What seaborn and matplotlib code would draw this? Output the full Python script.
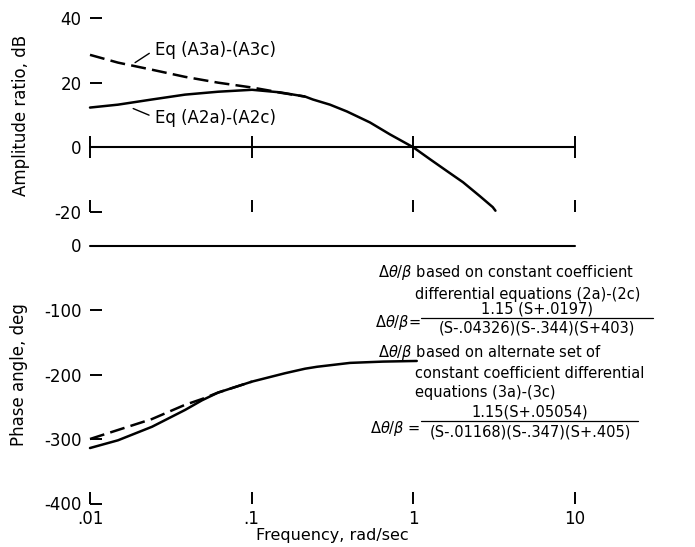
import matplotlib
matplotlib.use("Agg")
import numpy as np
import pandas as pd
import seaborn as sns
import matplotlib.pyplot as plt
from matplotlib.ticker import NullLocator
from matplotlib.lines import Line2D

# values
freq_ticks = [0.01, 0.1, 1, 10]
freq_tick_labels = [".01", ".1", "1", "10"]
amp_ticks = [-20, 0, 20, 40]
phase_ticks = [-400, -300, -200, -100, 0]

# amplitude ratio, Eq (A2a)-(A2c)
amp_freq_a2 = [0.01, 0.0149, 0.0242, 0.0387, 0.062, 0.1005, 0.150, 0.214, 0.239, 0.305,
               0.388, 0.539, 0.717, 1.0, 1.27, 1.62, 2.03, 2.58, 3.10, 3.22]
amp_db_a2 = [12.3, 13.2, 14.8, 16.3, 17.2, 17.8, 17.0, 15.7, 14.8, 13.2,
             11.1, 7.7, 4.0, 0.0, -3.7, -7.4, -10.8, -15.1, -18.5, -19.6]
# amplitude ratio, Eq (A3a)-(A3c)
amp_freq_a3 = [0.01, 0.0149, 0.0242, 0.0387, 0.062, 0.1005, 0.134, 0.150, 0.214]
amp_db_a3 = [28.6, 26.2, 24.0, 21.8, 20.0, 18.5, 17.4, 16.9, 15.7]

# phase angle
ph_freq_2 = [0.01, 0.0149, 0.0242, 0.0387, 0.0493, 0.062, 0.1005, 0.161, 0.214, 0.254,
             0.406, 0.649, 1.05]
ph_deg_2 = [-314, -302, -281, -255, -240, -228, -211, -198, -191, -188, -182, -180, -179]
ph_freq_3 = [0.01, 0.0149, 0.0242, 0.0387, 0.0493, 0.062, 0.1005]
ph_deg_3 = [-300, -286, -269, -247, -238, -228, -211]

amp2 = pd.DataFrame({"freq": amp_freq_a2, "val": amp_db_a2})
amp3 = pd.DataFrame({"freq": amp_freq_a3, "val": amp_db_a3})
ph2 = pd.DataFrame({"freq": ph_freq_2, "val": ph_deg_2})
ph3 = pd.DataFrame({"freq": ph_freq_3, "val": ph_deg_3})

sns.set_style("white")
plt.rcParams["font.family"] = ["DejaVu Sans"]
plt.rcParams["axes.unicode_minus"] = False
for k in ("text.color", "axes.labelcolor", "xtick.color", "ytick.color"):
    plt.rcParams[k] = "black"

W, H = 695, 547
fig = plt.figure(figsize=(W / 100, H / 100), dpi=100)


def fx(x):
    return x / W


def fy(y):
    return 1 - y / H


def box(x0, y0, x1, y1):
    return [fx(x0), fy(y1), (x1 - x0) / W, (y1 - y0) / H]


ax_amp = fig.add_axes(box(90, 18, 575, 212))
ax_ph = fig.add_axes(box(90, 245.5, 575, 503.5))

dash = (0, (6, 2.5))
sns.lineplot(data=amp2, x="freq", y="val", ax=ax_amp, color="black", lw=1.8, errorbar=None, clip_on=False)
sns.lineplot(data=amp3, x="freq", y="val", ax=ax_amp, color="black", lw=1.8, linestyle=dash, errorbar=None, clip_on=False)
sns.lineplot(data=ph2, x="freq", y="val", ax=ax_ph, color="black", lw=1.8, errorbar=None, clip_on=False)
sns.lineplot(data=ph3, x="freq", y="val", ax=ax_ph, color="black", lw=1.8, linestyle=dash, errorbar=None, clip_on=False)

for ax in (ax_amp, ax_ph):
    ax.set_xscale("log")
    ax.set_xlim(0.01, 10)
    ax.xaxis.set_minor_locator(NullLocator())
    ax.yaxis.set_minor_locator(NullLocator())
    for s in ax.spines.values():
        s.set_visible(False)
    ax.patch.set_alpha(0)
    ax.set_xticks(freq_ticks)
    ax.tick_params(which="major", direction="in", length=8.5, width=1.4, color="black",
                   labelcolor="black", labelsize=12, pad=6, bottom=True, left=True,
                   top=False, right=False)

# amplitude panel
ax_amp.set_ylim(-20, 40)
ax_amp.set_yticks(amp_ticks, [str(t) for t in amp_ticks])
ax_amp.tick_params(axis="x", labelbottom=False)
ax_amp.plot(freq_ticks, np.zeros(len(freq_ticks)), color="black", lw=1.5,
            marker="|", ms=16, mew=1.4, clip_on=False)
ax_amp.set_xlabel("")
ax_amp.set_ylabel("Amplitude ratio, dB", fontsize=12)
ax_amp.yaxis.set_label_coords(-0.124, 0.5)

lead = dict(arrowstyle="-", lw=1, color="black", shrinkA=2, shrinkB=0, relpos=(0, 0.5))
ax_amp.annotate("Eq (A3a)-(A3c)", xy=(0.019, 26.2), xytext=(0.0252, 30.2),
                ha="left", va="center", fontsize=12, arrowprops=lead)
ax_amp.annotate("Eq (A2a)-(A2c)", xy=(0.0185, 12.0), xytext=(0.0252, 9.2),
                ha="left", va="center", fontsize=12, arrowprops=lead)

# phase panel
ax_ph.set_ylim(-400, 0)
ax_ph.set_yticks(phase_ticks, [str(t) for t in phase_ticks])
ax_ph.set_xticks(freq_ticks, freq_tick_labels)
ax_ph.tick_params(axis="x", pad=5)
ax_ph.axhline(0, color="black", lw=1.5, clip_on=False)
ax_ph.set_xlabel("Frequency, rad/sec", fontsize=11.5, labelpad=0)
ax_ph.set_ylabel("Phase angle, deg", fontsize=12)
ax_ph.yaxis.set_label_coords(-0.128, 0.5)

# transfer function notes
dtb = r"$\Delta\theta/\beta$"
fs = 10.5
fig.text(fx(378), fy(273), dtb + " based on constant coefficient", fontsize=fs, va="center")
fig.text(fx(415), fy(295), "differential equations (2a)-(2c)", fontsize=fs, va="center")
fig.text(fx(421), fy(322), dtb + "=", fontsize=fs, va="center", ha="right")
fig.text(fx(537), fy(309), "1.15 (S+.0197)", fontsize=fs, va="center", ha="center")
fig.text(fx(537), fy(328), "(S-.04326)(S-.344)(S+403)", fontsize=fs, va="center", ha="center")
fig.add_artist(Line2D([fx(421), fx(653)], [fy(318), fy(318)], color="black", lw=0.9))

fig.text(fx(378), fy(353), dtb + " based on alternate set of", fontsize=fs, va="center")
fig.text(fx(415), fy(373), "constant coefficient differential", fontsize=fs, va="center")
fig.text(fx(415), fy(392), "equations (3a)-(3c)", fontsize=fs, va="center")
fig.text(fx(420), fy(428), dtb + " =", fontsize=fs, va="center", ha="right")
fig.text(fx(530), fy(412), "1.15(S+.05054)", fontsize=fs, va="center", ha="center")
fig.text(fx(530), fy(432), "(S-.01168)(S-.347)(S+.405)", fontsize=fs, va="center", ha="center")
fig.add_artist(Line2D([fx(421), fx(638)], [fy(421), fy(421)], color="black", lw=0.9))

fig.savefig("out.png", dpi=100)
